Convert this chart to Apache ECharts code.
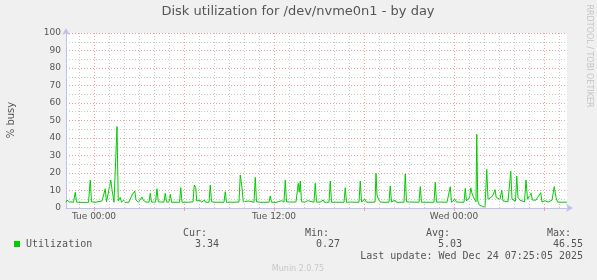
<!DOCTYPE html>
<html><head><meta charset="utf-8">
<script src="https://cdn.jsdelivr.net/npm/echarts@6/dist/echarts.min.js"></script>
<style>html,body{margin:0;padding:0;background:#f0f0f0}#c{width:597px;height:280px}</style>
</head><body><div id="c"></div>
<script>
// minutes relative to Tue 00:00
const minutes = [-112,-108,-104,-98,-92,-82,-75,-70,-56,-36,-22,-15,-10,4,16,24,32,38,45,50,56,67,72,77,80,87,92,97,105,110,119,124,140,152,157,163,168,178,186,192,198,208,220,225,230,246,252,257,268,280,285,290,300,305,310,342,347,352,376,396,401,407,411,416,424,430,441,446,460,465,470,480,520,525,530,556,580,585,592,597,604,617,622,640,645,650,664,700,705,710,728,751,756,760,765,770,792,808,812,817,821,825,830,844,855,860,880,885,890,904,917,922,940,945,950,976,1000,1005,1010,1024,1044,1060,1065,1070,1076,1084,1090,1112,1124,1128,1132,1138,1144,1150,1156,1180,1185,1190,1196,1204,1209,1216,1224,1240,1245,1250,1272,1300,1305,1310,1336,1360,1365,1370,1384,1412,1420,1425,1430,1444,1450,1468,1480,1485,1490,1496,1502,1507,1512,1517,1522,1528,1531,1535,1541,1551,1558,1564,1571,1576,1584,1592,1598,1604,1609,1616,1624,1631,1636,1644,1656,1667,1672,1680,1686,1691,1696,1704,1712,1722,1728,1734,1740,1748,1754,1760,1768,1776,1787,1792,1804,1810,1816,1824,1832,1841,1848,1854,1864,1892];
const busy = [3.3,4.5,5,3.5,3.3,3.3,9,3.4,3.2,3.2,3.3,16,3.5,3.3,3.6,3.2,4,3.3,11,3.5,3.5,16,10.5,9.5,3.3,3.3,46.55,4,6,3.4,4.5,3.2,3.3,7.4,6.5,9.7,4.5,3.3,4.3,6.3,4.3,3.4,3.4,8.4,3.4,3.4,11,3.5,3.4,3.4,8.4,3.4,3.4,7.8,3.3,3.3,11.6,3.3,3.3,3.5,13.1,11.6,4,3.3,4.5,3.3,4.5,3.3,3.3,13.1,3.6,3.3,3.3,9.3,3.3,3.3,3.4,18.9,11.6,3.5,3.3,4,3.3,3.3,17.5,3.5,3.3,3.3,6.9,3.3,3.2,4.2,3.3,3.3,16,3.5,3.4,3.5,4,14.1,9,15.4,3.6,3.3,4.2,3.3,3.3,14.1,3.4,3.3,4.6,3.3,3.3,15.4,3.3,3.3,3.3,11.6,3.3,3.4,3.3,3.3,15.4,3.5,3.3,5,3.3,3.3,3.4,19.8,7.4,5,3.5,4.5,3.3,3.3,12.6,3.4,3.3,4.5,3.3,4,3.3,3.3,19.4,3.5,3.4,3.3,12.2,3.3,3.3,3.3,14.7,3.3,3.4,3.3,3.3,12.2,3.3,5,3.4,3.3,3.3,11.2,4,3.6,6,11.5,8.4,6.5,5,3.6,42.1,4,1.7,1.1,0.8,0.27,22,5,5.5,6.5,8,10.5,6,5.5,5,10.3,4,3.5,3.6,21,5,4.5,4,18.3,6,4.5,5,3.5,16,5,4.5,8.4,4.5,3.5,4.5,3.4,8.8,3.5,4.2,3.3,3.4,3.3,4.5,12.2,6,3.4,3.3,3.34];
const xTickValues = [0, 720, 1440];
const xTickLabels = ['Tue 00:00', 'Tue 12:00', 'Wed 00:00'];
const legendName = 'Utilization';
const statHeaders = ['Cur:', 'Min:', 'Avg:', 'Max:'];
const statValues = ['3.34', '0.27', '5.03', '46.55'];
const lastUpdate = 'Last update: Wed Dec 24 07:25:05 2025';

const xMin = -112, xMax = 1892;
const gridLines = [];
for (let m = -60; m <= xMax; m += 60) {
  const major = (m % 360 === 0);
  gridLines.push({xAxis: m, lineStyle: {color: major ? '#f4a0a0' : '#c8c8c8', type: [1, 2], width: 1}});
}

const chart = echarts.init(document.getElementById('c'), null, {renderer: 'canvas'});
const mono = '10px "DejaVu Sans Mono"';
const gfx = [];
gfx.push({type:'text', x:298, y:12, style:{text:'Disk utilization for /dev/nvme0n1 - by day', font:'13px "DejaVu Sans"', fill:'#555', textAlign:'center', textVerticalAlign:'middle'}});
gfx.push({type:'text', x:11, y:120, rotation:Math.PI/2, style:{text:'% busy', font:'10px "DejaVu Sans"', fill:'#555', textAlign:'center', textVerticalAlign:'middle'}});
gfx.push({type:'text', x:589, y:56, rotation:-Math.PI/2, style:{text:'RRDTOOL / TOBI OETIKER', font:'8px "DejaVu Sans"', fill:'#c4c4c4', textAlign:'center', textVerticalAlign:'middle'}});
gfx.push({type:'rect', shape:{x:14, y:241, width:6, height:6}, style:{fill:'#00cc00'}});
gfx.push({type:'text', x:26, y:244, style:{text:legendName, font:mono, fill:'#555', textVerticalAlign:'middle'}});
const hdrX = [183, 305, 426, 547];
const valR = [219, 340, 462, 583];
statHeaders.forEach((h, i) => {
  gfx.push({type:'text', x:hdrX[i], y:233, style:{text:h, font:mono, fill:'#555', textVerticalAlign:'middle'}});
  gfx.push({type:'text', x:valR[i], y:244.5, style:{text:statValues[i], font:mono, fill:'#555', textAlign:'right', textVerticalAlign:'middle'}});
});
gfx.push({type:'text', x:583, y:256, style:{text:lastUpdate, font:mono, fill:'#555', textAlign:'right', textVerticalAlign:'middle'}});
gfx.push({type:'text', x:298, y:269, style:{text:'Munin 2.0.75', font:'8px "DejaVu Sans"', fill:'#c8c8c8', textAlign:'center', textVerticalAlign:'middle'}});

chart.setOption({
  animation: false,
  backgroundColor: '#f0f0f0',
  grid: {left: 66, top: 33, width: 501, height: 175, show: true, backgroundColor: '#ffffff', borderWidth: 0},
  xAxis: {
    type: 'value', min: xMin, max: xMax,
    axisLine: {show: true, onZero: false, lineStyle: {color: '#c0c0f0'}, symbol: ['none', 'arrow'], symbolSize: [6, 7], symbolOffset: [0, 6]},
    axisTick: {show: true, customValues: [0, 360, 720, 1080, 1440, 1800], length: 3, lineStyle: {color: '#f4a0a0'}},
    axisLabel: {customValues: xTickValues, formatter: v => xTickLabels[xTickValues.indexOf(v)] || '', margin: 4, color: '#555', fontFamily: 'DejaVu Sans', fontSize: 9},
    splitLine: {show: false}
  },
  yAxis: {
    type: 'value', min: 0, max: 100, interval: 10,
    axisLine: {show: true, onZero: false, lineStyle: {color: '#c0c0f0'}, symbol: ['none', 'arrow'], symbolSize: [6, 7], symbolOffset: [0, 5]},
    axisTick: {show: false},
    axisLabel: {margin: 5, color: '#555', fontFamily: 'DejaVu Sans', fontSize: 9},
    splitLine: {show: true, lineStyle: {color: '#f4a0a0', type: [1, 2]}},
    minorTick: {show: false, splitNumber: 2},
    minorSplitLine: {show: true, lineStyle: {color: '#c8c8c8', type: [1, 2]}}
  },
  series: [
    {type: 'line', data: [], z: 1, silent: true,
     markLine: {silent: true, symbol: ['none', 'none'], label: {show: false}, animation: false, data: gridLines}},
    {type: 'line', z: 3, data: minutes.map((m, i) => [m, busy[i]]), showSymbol: false, symbol: 'none',
     lineStyle: {color: '#00cc00', width: 1}, silent: true}
  ],
  graphic: gfx
});
</script></body></html>
